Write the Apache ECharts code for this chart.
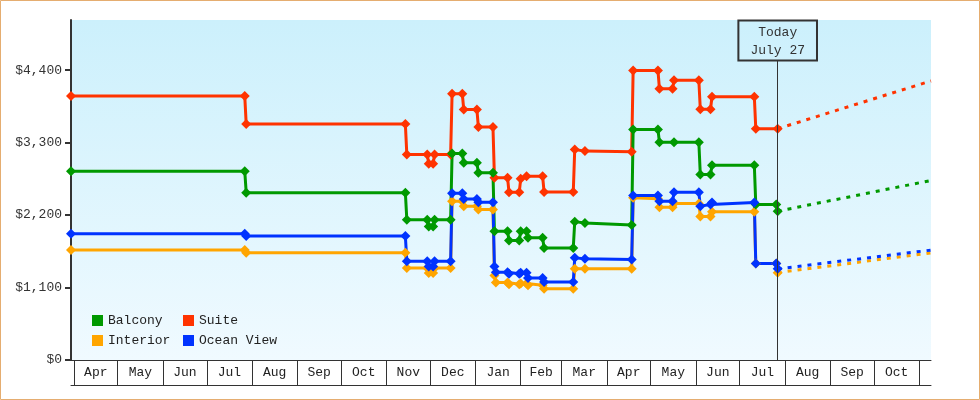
<!DOCTYPE html>
<html>
<head>
<meta charset="utf-8">
<script src="https://cdn.jsdelivr.net/npm/echarts@6/dist/echarts.min.js"></script>
<style>
html,body{margin:0;padding:0;background:#fff;}
#chart{width:980px;height:400px;}
</style>
</head>
<body>
<div id="chart"></div>
<script>
// ---- Data ----
const axisStart = '2022-03-30';
const axisEnd = '2023-11-09';
const today = '2023-07-27';
const todayLabel = 'Today\nJuly 27';
const todayLineTop = 4547;

const monthStarts = ['2022-04-01','2022-05-01','2022-06-01','2022-07-01','2022-08-01','2022-09-01','2022-10-01','2022-11-01','2022-12-01','2023-01-01','2023-02-01','2023-03-01','2023-04-01','2023-05-01','2023-06-01','2023-07-01','2023-08-01','2023-09-01','2023-10-01','2023-11-01'];
const monthLabels = ['Apr','May','Jun','Jul','Aug','Sep','Oct','Nov','Dec','Jan','Feb','Mar','Apr','May','Jun','Jul','Aug','Sep','Oct'];
const yTicks = [0, 1100, 2200, 3300, 4400];
const legendCol1 = ['Balcony','Interior'];
const legendCol2 = ['Suite','Ocean View'];

const suite = [
  ['2022-03-30',4005],['2022-07-27',4005],['2022-07-28',3580],['2022-11-14',3580],['2022-11-15',3120],
  ['2022-11-29',3120],['2022-11-30',2980],['2022-12-03',2980],['2022-12-04',3120],['2022-12-15',3120],
  ['2022-12-16',4040],['2022-12-23',4040],['2022-12-24',3800],['2023-01-02',3800],['2023-01-03',3535],
  ['2023-01-13',3535],['2023-01-14',2765],['2023-01-23',2765],['2023-01-24',2545],['2023-01-31',2545],
  ['2023-02-01',2750],['2023-02-05',2790],['2023-02-16',2790],['2023-02-17',2550],['2023-03-09',2550],
  ['2023-03-10',3195],['2023-03-17',3170],['2023-04-18',3160],['2023-04-19',4395],['2023-05-06',4395],
  ['2023-05-07',4115],['2023-05-16',4115],['2023-05-17',4245],['2023-06-03',4245],['2023-06-04',3805],
  ['2023-06-11',3805],['2023-06-12',3995],['2023-07-11',3995],['2023-07-12',3510],['2023-07-27',3510]
];
const balcony = [
  ['2022-03-30',2865],['2022-07-27',2865],['2022-07-28',2540],['2022-11-14',2540],['2022-11-15',2130],
  ['2022-11-29',2130],['2022-11-30',2025],['2022-12-03',2025],['2022-12-04',2130],['2022-12-15',2130],
  ['2022-12-16',3135],['2022-12-23',3135],['2022-12-24',2995],['2023-01-02',2995],['2023-01-03',2840],
  ['2023-01-13',2840],['2023-01-14',1955],['2023-01-23',1955],['2023-01-24',1815],['2023-01-31',1815],
  ['2023-02-01',1955],['2023-02-05',1955],['2023-02-06',1855],['2023-02-16',1855],['2023-02-17',1700],
  ['2023-03-09',1700],['2023-03-10',2100],['2023-03-17',2080],['2023-04-18',2050],['2023-04-19',3500],
  ['2023-05-06',3500],['2023-05-07',3305],['2023-05-17',3305],['2023-06-03',3305],['2023-06-04',2815],
  ['2023-06-11',2815],['2023-06-12',2955],['2023-07-11',2955],['2023-07-12',2360],['2023-07-26',2360],
  ['2023-07-27',2258]
];
const oceanView = [
  ['2022-03-30',1915],['2022-07-27',1915],['2022-07-28',1880],['2022-11-14',1880],['2022-11-15',1500],
  ['2022-11-29',1500],['2022-11-30',1420],['2022-12-03',1420],['2022-12-04',1500],['2022-12-15',1500],
  ['2022-12-16',2530],['2022-12-23',2530],['2022-12-24',2445],['2023-01-02',2445],['2023-01-03',2395],
  ['2023-01-13',2395],['2023-01-14',1420],['2023-01-15',1330],['2023-01-23',1330],['2023-01-24',1310],
  ['2023-01-31',1310],['2023-02-01',1325],['2023-02-05',1325],['2023-02-06',1245],['2023-02-16',1245],
  ['2023-02-17',1185],['2023-03-09',1185],['2023-03-10',1550],['2023-03-17',1535],['2023-04-18',1525],
  ['2023-04-19',2495],['2023-05-06',2495],['2023-05-07',2410],['2023-05-16',2410],['2023-05-17',2545],
  ['2023-06-03',2545],['2023-06-04',2335],['2023-06-11',2360],['2023-06-12',2390],['2023-07-11',2390],
  ['2023-07-12',1463],['2023-07-26',1463],['2023-07-27',1383]
];
const interior = [
  ['2022-03-30',1668],['2022-07-27',1668],['2022-07-28',1626],['2022-11-14',1626],['2022-11-15',1398],
  ['2022-11-29',1398],['2022-11-30',1322],['2022-12-03',1322],['2022-12-04',1398],['2022-12-15',1398],
  ['2022-12-16',2410],['2022-12-23',2410],['2022-12-24',2334],['2023-01-02',2334],['2023-01-03',2284],
  ['2023-01-13',2284],['2023-01-14',1281],['2023-01-15',1175],['2023-01-23',1175],['2023-01-24',1150],
  ['2023-01-31',1150],['2023-02-01',1160],['2023-02-05',1160],['2023-02-06',1135],['2023-02-16',1135],
  ['2023-02-17',1083],['2023-03-09',1083],['2023-03-10',1383],['2023-03-17',1383],['2023-04-18',1383],
  ['2023-04-19',2461],['2023-05-06',2446],['2023-05-07',2320],['2023-05-16',2320],['2023-05-17',2375],
  ['2023-06-03',2375],['2023-06-04',2178],['2023-06-11',2178],['2023-06-12',2250],['2023-07-11',2250],
  ['2023-07-12',1463],['2023-07-26',1463],['2023-07-27',1326]
];
const suiteForecast = [[today,3510],[axisEnd,4235]];
const balconyForecast = [[today,2258],[axisEnd,2725]];
const oceanViewForecast = [[today,1383],[axisEnd,1668]];
const interiorForecast = [[today,1326],[axisEnd,1626]];

// ---- Helpers ----
const ts = s => { const [y,m,d] = s.split('-').map(Number); return new Date(y, m-1, d).getTime(); };
const toTs = arr => arr.map(p => [ts(p[0]), p[1]]);
const tickTs = monthStarts.map(ts);
const labelTs = monthLabels.map((_, i) => (tickTs[i] + tickTs[i+1]) / 2);
const FONT = 'Liberation Mono';
const COLORS = {Balcony:'#009900', Suite:'#ff3300', Interior:'#ffa500', 'Ocean View':'#0033ff'};

function mainSeries(name, data, extra) {
  return Object.assign({
    name, type:'line', data: toTs(data), symbol:'diamond', symbolSize:10, showAllSymbol:true,
    lineStyle:{color:COLORS[name], width:3}, itemStyle:{color:COLORS[name], borderWidth:0},
    emphasis:{disabled:true}, animation:false, clip:false
  }, extra || {});
}
function fcSeries(name, data) {
  return {
    name: name + ' forecast', type:'line', data: toTs(data), symbol:'none',
    lineStyle:{color:COLORS[name], width:3, type:[4,6]}, itemStyle:{color:COLORS[name]},
    emphasis:{disabled:true}, animation:false, silent:true
  };
}
function legendCol(names, left) {
  return {orient:'vertical', left, top:314, itemWidth:11, itemHeight:11, itemGap:7, icon:'rect', padding:0,
    data:names, selectedMode:false, textStyle:{fontFamily:FONT, fontSize:13, color:'#222'}};
}

const chart = echarts.init(document.getElementById('chart'), null, {renderer:'canvas'});
chart.setOption({
  animation:false,
  graphic:[{type:'rect', shape:{x:0.5,y:0.5,width:979,height:399}, style:{fill:null, stroke:'#e5ad70', lineWidth:1}, silent:true}],
  grid:{left:71, right:49, top:20, bottom:40, show:true, borderWidth:0,
    backgroundColor:{type:'linear', x:0, y:0, x2:0, y2:1, colorStops:[{offset:0,color:'#ccf0fc'},{offset:1,color:'#f0faff'}]}},
  legend:[legendCol(legendCol1, 92), legendCol(legendCol2, 183)],
  xAxis:[{
    type:'value', min:ts(axisStart), max:ts(axisEnd),
    axisLine:{show:true, lineStyle:{color:'#333', width:1}},
    axisTick:{show:true, length:25, customValues:tickTs, lineStyle:{color:'#333', width:1}},
    axisLabel:{customValues:labelTs, margin:6, fontFamily:FONT, fontSize:13, color:'#222',
      formatter:(v) => { const i = labelTs.findIndex(x => Math.abs(x - v) < 3600000); return i >= 0 ? monthLabels[i] : ''; }},
    splitLine:{show:false}
  },{
    type:'value', min:ts(axisStart), max:ts(axisEnd), position:'bottom', offset:25,
    axisLine:{show:true, lineStyle:{color:'#333', width:1}},
    axisTick:{show:false}, axisLabel:{show:false}, splitLine:{show:false}
  }],
  yAxis:{
    type:'value', min:0, max:5160,
    axisLine:{show:true, lineStyle:{color:'#333', width:2}},
    axisTick:{show:true, length:6, customValues:yTicks, lineStyle:{color:'#333', width:2}},
    axisLabel:{customValues:yTicks, margin:9, fontFamily:FONT, fontSize:13, color:'#333',
      formatter:(v) => '$' + Number(v).toLocaleString('en-US')},
    splitLine:{show:false}
  },
  series:[
    fcSeries('Suite', suiteForecast),
    fcSeries('Balcony', balconyForecast),
    fcSeries('Interior', interiorForecast),
    fcSeries('Ocean View', oceanViewForecast),
    mainSeries('Suite', suite, {
      markLine:{silent:true, animation:false, symbol:['none','none'],
        lineStyle:{color:'#333', width:1, type:'solid'},
        label:{show:true, position:'end', distance:0, formatter:todayLabel, fontFamily:FONT, fontSize:13, color:'#333',
          lineHeight:18, padding:[3,12,1,12], borderColor:'#333', borderWidth:1, backgroundColor:'rgba(0,0,0,0)', align:'center'},
        data:[[{coord:[ts(today),0]},{coord:[ts(today),todayLineTop]}]]}
    }),
    mainSeries('Interior', interior),
    mainSeries('Balcony', balcony),
    mainSeries('Ocean View', oceanView)
  ]
});
</script>
</body>
</html>
